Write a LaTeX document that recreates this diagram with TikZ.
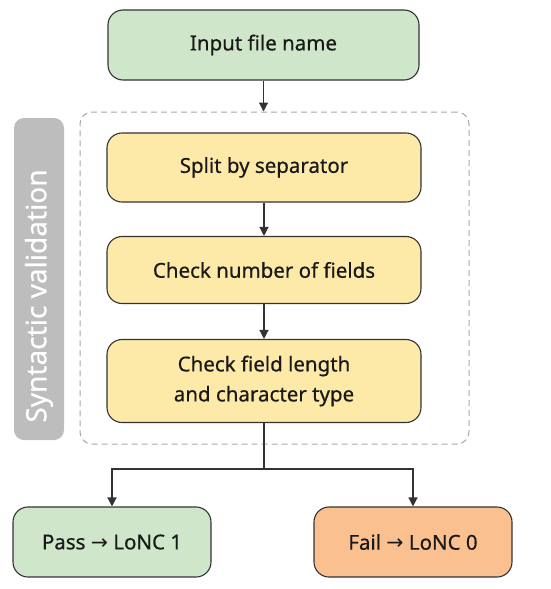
\documentclass[tikz,border=0pt]{standalone}
\usepackage{fontspec}
\setmainfont{Noto Sans}[FakeBold=0.5]
\newfontfamily\arrowfont{DejaVu Sans}
\usetikzlibrary{arrows.meta}

\definecolor{boxgreen}{HTML}{CFE6CB}
\definecolor{boxyellow}{HTML}{FDE9A8}
\definecolor{boxorange}{HTML}{FBC08F}
\definecolor{bargray}{HTML}{BDBDBD}
\definecolor{linegray}{HTML}{333333}
\definecolor{dashgray}{HTML}{A8A8A8}

\newcommand{\toarrow}{{\arrowfont\char"2192}}

\tikzset{
  stepbox/.style={draw=linegray, line width=1.1pt, rounded corners=15pt,
    minimum width=314pt, minimum height=69pt, align=center,
    font=\fontsize{20.5}{30}\selectfont, text=black!90, inner sep=0pt},
  endbox/.style={stepbox, minimum width=198pt, minimum height=70pt},
  conn/.style={draw=linegray, line width=1.3pt,
    -{Triangle[length=9pt,width=9pt]}},
  groupbox/.style={draw=dashgray, line width=1pt, dash pattern=on 6pt off 4pt,
    rounded corners=12pt, minimum width=389pt, minimum height=332pt}
}

\begin{document}
\begin{tikzpicture}[x=1pt,y=-1pt]
\useasboundingbox (0,0) rectangle (550,589);

% grouping frame and side label
\node[groupbox] (group) at (274.5,278) {};
\fill[bargray, rounded corners=10pt] (14,118) rectangle (64,440);
\node[rotate=90, text=white, font=\fontsize{28}{34}\selectfont] (label) at (39,296) {Syntactic validation};

% steps
\node[stepbox, fill=boxgreen, minimum width=311pt, minimum height=70pt] (input) at (263.5,45) {Input file name};
\node[stepbox, fill=boxyellow] (split) at (264,167.5) {Split by separator};
\node[stepbox, fill=boxyellow, minimum height=67pt] (fields) at (264,270) {Check number of fields};
\node[stepbox, fill=boxyellow, minimum height=83pt] (length) at (264,381) {Check field length\\and character type};
\node[endbox, fill=boxgreen] (pass) at (112,542) {Pass \toarrow{} LoNC 1};
\node[endbox, fill=boxorange] (fail) at (413,542) {Fail \toarrow{} LoNC 0};

% connectors
\draw[conn] (input.south) -- (input.south |- group.north);
\draw[conn] (split.south) -- (fields.north);
\draw[conn] (fields.south) -- (length.north);
\coordinate (fork) at (264,469);
\draw[draw=linegray, line width=1.3pt] (length.south) -- (fork);
\draw[conn] (fork) -| (pass.north);
\draw[conn] (fork) -| (fail.north);
\end{tikzpicture}
\end{document}
